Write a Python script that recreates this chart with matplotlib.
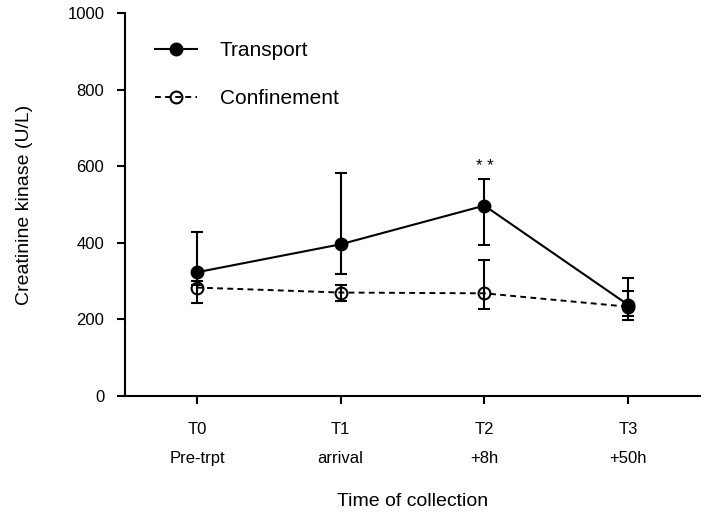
import matplotlib
matplotlib.use("Agg")
import matplotlib.pyplot as plt
import numpy as np

plt.rcParams['font.family'] = ['Liberation Sans', 'DejaVu Sans']

categories = ["T0\nPre-trpt", "T1\narrival", "T2\n+8h", "T3\n+50h"]
transport = [323, 396, 497, 238]
transport_lo = [290, 318, 395, 209]
transport_hi = [427, 582, 566, 308]
confinement = [283, 270, 268, 233]
confinement_lo = [242, 249, 228, 198]
confinement_hi = [300, 290, 354, 275]

x = np.arange(len(categories))

fig = plt.figure(figsize=(7.07, 5.16), dpi=100)
ax = fig.add_axes([0.177, 0.2326, 0.813, 0.7424])

t_err = [np.array(transport) - np.array(transport_lo), np.array(transport_hi) - np.array(transport)]
c_err = [np.array(confinement) - np.array(confinement_lo), np.array(confinement_hi) - np.array(confinement)]

ax.errorbar(x, confinement, yerr=c_err, fmt='none',
            ecolor='black', elinewidth=1.5, capsize=4.5, capthick=1.5, zorder=3)
ax.errorbar(x, transport, yerr=t_err, fmt='none',
            ecolor='black', elinewidth=1.5, capsize=4.5, capthick=1.5, zorder=3)
l_conf, = ax.plot(x, confinement, color='black', lw=1.4, ls=(0, (3, 2.2)),
                  marker='o', ms=8.5, mfc='none', mec='black', mew=1.5,
                  label='Confinement', zorder=4)
l_trans, = ax.plot(x, transport, color='black', lw=1.5, ls='-',
                   marker='o', ms=9, mfc='black', mec='black',
                   label='Transport', zorder=5)

ax.text(x[2], 580, "* *", ha='center', va='bottom', fontsize=12)

ax.set_xlim(-0.5, 3.5)
ax.set_ylim(0, 1000)
ax.set_yticks([0, 200, 400, 600, 800, 1000])
ax.set_xticks(x)
ax.set_xticklabels(categories, linespacing=2.1)
ax.tick_params(axis='both', labelsize=12, width=1.5, length=6, direction='out')
ax.tick_params(axis='x', pad=13)
ax.tick_params(axis='y', pad=9)
for s in ['top', 'right']:
    ax.spines[s].set_visible(False)
for s in ['left', 'bottom']:
    ax.spines[s].set_linewidth(1.5)

ax.set_xlabel("Time of collection", fontsize=14, labelpad=20)
ax.set_ylabel("Creatinine kinase (U/L)", fontsize=14, labelpad=25)

leg = ax.legend([l_trans, l_conf], ['Transport', 'Confinement'], loc='upper left',
                bbox_to_anchor=(0.02, 0.975), frameon=False, fontsize=15,
                labelspacing=1.4, handlelength=2.0, handletextpad=1.1)

fig.savefig("out.png", dpi=100)
